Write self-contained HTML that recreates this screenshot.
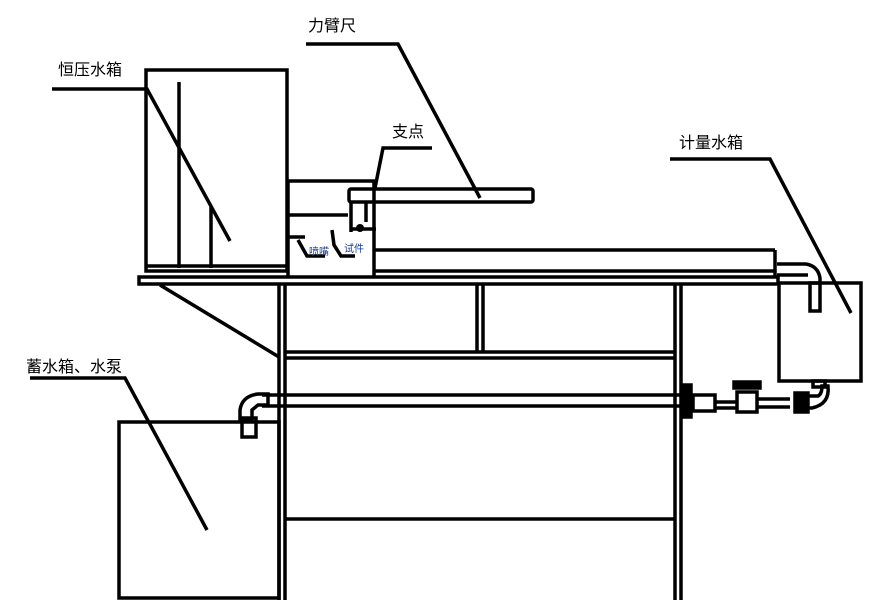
<!DOCTYPE html>
<html><head><meta charset="utf-8"><style>
html,body{margin:0;padding:0;background:#fff;}
svg{display:block;}
text{font-family:"Liberation Sans","Noto Sans CJK SC",sans-serif;font-size:16px;fill:#000;}
</style></head><body>
<svg width="870" height="612" viewBox="0 0 870 612" xmlns="http://www.w3.org/2000/svg">
<g stroke="#000" stroke-width="3.5" fill="none">
<rect x="146" y="70" width="141" height="201"/>
<line x1="146" y1="266" x2="287" y2="266"/>
<line x1="179" y1="82" x2="179" y2="268"/>
<line x1="211" y1="207" x2="211" y2="268"/>
<rect x="139" y="277" width="639" height="7"/>
<line x1="279" y1="285" x2="279" y2="600"/>
<line x1="285" y1="285" x2="285" y2="600"/>
<line x1="477" y1="285" x2="477" y2="352"/>
<line x1="483" y1="285" x2="483" y2="352"/>
<line x1="675" y1="285" x2="675" y2="600"/>
<line x1="681" y1="285" x2="681" y2="600"/>
<line x1="285" y1="352" x2="675" y2="352"/>
<line x1="285" y1="358" x2="675" y2="358"/>
<line x1="285" y1="519" x2="675" y2="519"/>
<line x1="160" y1="285" x2="279" y2="357"/>
<line x1="262" y1="395" x2="690" y2="395"/>
<line x1="262" y1="406" x2="690" y2="406"/>
<path d="M268,394 L258,394 Q242,396 240,410 L240,420 L252,420 L252,410 L258,405 L268,405 Z"/>
<rect x="242" y="418" width="14" height="19"/>
<rect x="119" y="422" width="160" height="176"/>
<polyline points="288,276 288,181 374,181 374,276"/>
<line x1="288" y1="215" x2="348" y2="215"/>
<line x1="288" y1="237" x2="305" y2="237"/>
<polyline points="298,240 307,256 325,256"/>
<polyline points="332,230 334,245 341,256 355,256"/>
<rect x="349" y="189" width="184" height="13" rx="2"/>
<line x1="351" y1="202" x2="351" y2="232"/>
<line x1="366" y1="202" x2="366" y2="222"/>
<line x1="351" y1="229" x2="376" y2="229"/>
<line x1="374" y1="250" x2="775" y2="250"/>
<line x1="374" y1="271" x2="775" y2="271"/>
<line x1="775" y1="250" x2="775" y2="276"/>
<path d="M777,264 L806,264 Q818,266 820,278 L820,283 M777,275 L808,275"/>
<rect x="810" y="283" width="10" height="28"/>
<rect x="779" y="283" width="82" height="98"/>
<rect x="683" y="385" width="8" height="32" fill="#000"/>
<rect x="693" y="395" width="22" height="16"/>
<line x1="715" y1="402" x2="736" y2="402"/>
<line x1="715" y1="408" x2="736" y2="408"/>
<rect x="734" y="382" width="26" height="6" fill="#000"/>
<rect x="737" y="392" width="20" height="20"/>
<line x1="757" y1="399" x2="790" y2="399"/>
<line x1="757" y1="407" x2="790" y2="407"/>
<path d="M795,393 L808,393 L808,412 L795,412 Z" fill="#000"/>
<path d="M808,396 L818,396 Q822,394 822,386 L828,386 Q830,404 812,408 L808,408"/>
<rect x="813" y="381" width="12" height="6"/>
<polyline points="52,89 147,89 230,241"/>
<polyline points="306,44 398,44 480,198"/>
<polyline points="432,148 383,148 375,188"/>
<polyline points="670,159 770,159 851,313"/>
<polyline points="30,378 125,378 207,530"/>
</g>
<circle cx="360" cy="228" r="4" fill="#000"/>
<text x="58" y="75">恒压水箱</text>
<text x="308" y="31">力臂尺</text>
<text x="392" y="137">支点</text>
<text x="679" y="148">计量水箱</text>
<text x="26" y="372">蓄水箱、水泵</text>
<text x="309" y="255" style="font-size:10px;fill:#1a3c8c">喷嘴</text>
<text x="344" y="252" style="font-size:10px;fill:#1a3c8c">试件</text>
</svg>
</body></html>
